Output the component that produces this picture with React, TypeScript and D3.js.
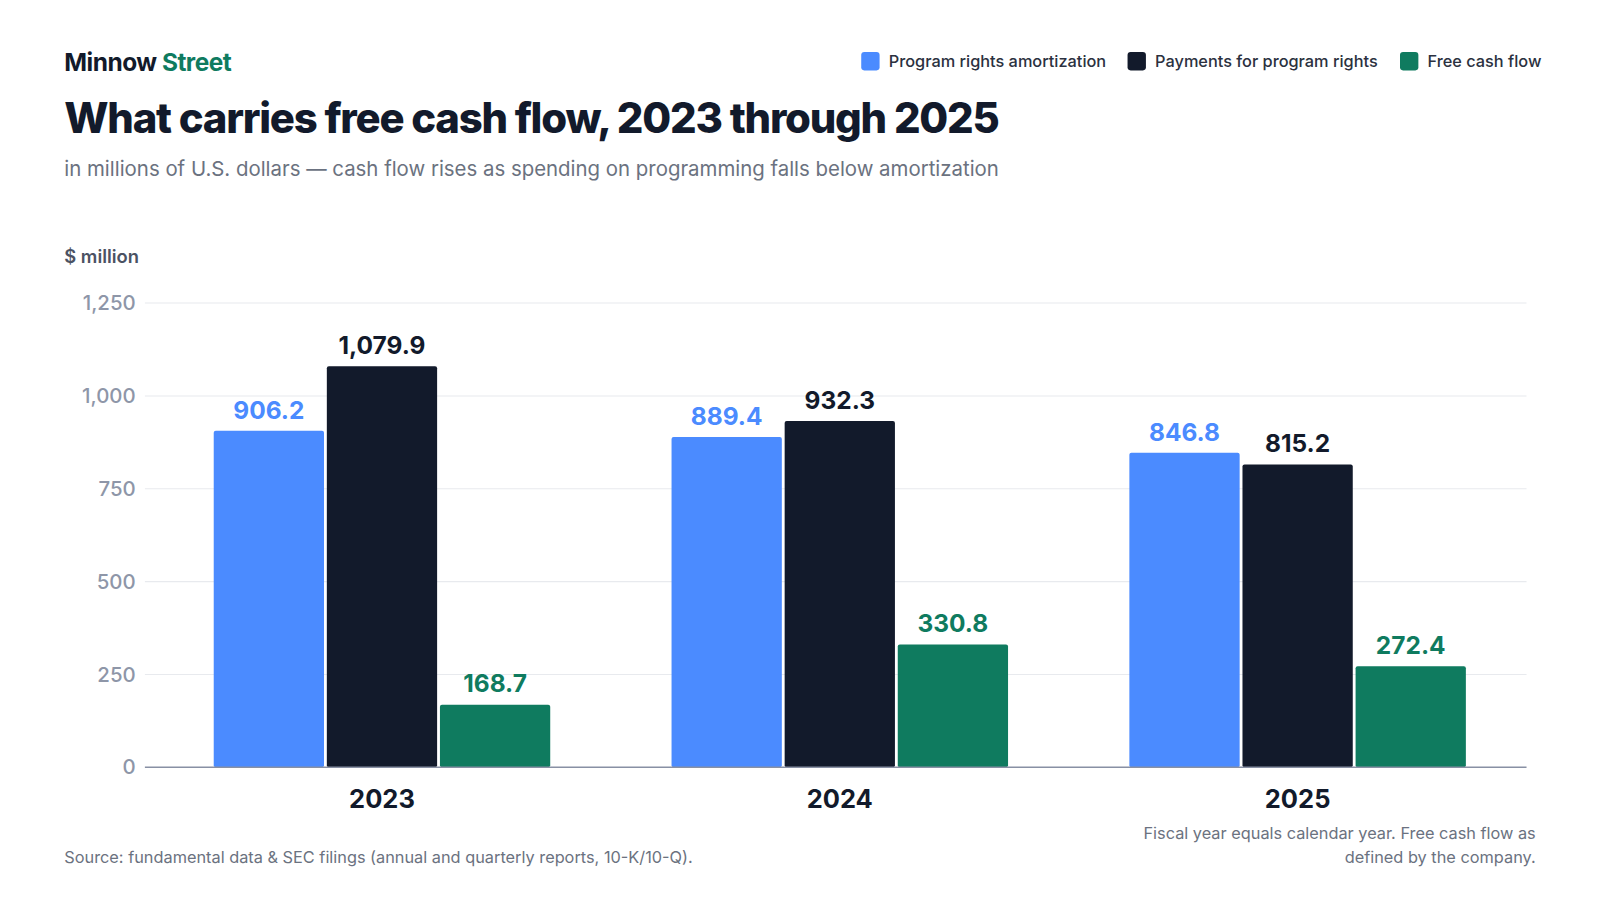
import React from 'react';
import * as d3 from 'd3';

const years = ['2023', '2024', '2025'];
const seriesNames = ['Program rights amortization', 'Payments for program rights', 'Free cash flow'];
const seriesColors = ['#4b8bff', '#121a2b', '#0f7b5f'];
const amortization = [906.2, 889.4, 846.8];
const payments = [1079.9, 932.3, 815.2];
const freeCashFlow = [168.7, 330.8, 272.4];
const yTicks = [0, 250, 500, 750, 1000, 1250];

const App: React.FC = () => {
  const width = 1600;
  const height = 900;
  const font = 'Inter, "Noto Sans", sans-serif';
  const values = [amortization, payments, freeCashFlow];

  const x = d3.scaleBand<string>().domain(years).range([150, 1496]).paddingInner(0.265).paddingOuter(0.1325);
  const xs = d3.scaleBand<string>().domain(seriesNames).range([0, x.bandwidth()]).paddingInner(0.025);
  const y = d3.scaleLinear().domain([0, 1250]).range([752, 297]);
  const fmt = d3.format(',.1f');

  const legendX = [844, 1105, 1372];

  return (
    <svg width={width} height={height} viewBox="0 0 1568 882" style={{ position: 'absolute', left: 0, top: 0, background: '#fff' }} fontFamily={font}>
      <text x={63} y={70} fontSize={24} fontWeight={700} fill="#121a2b" letterSpacing={-0.5}>
        Minnow <tspan fill="#0f7b5f">Street</tspan>
      </text>
      <text x={63} y={130} fontSize={41} fontWeight={800} fill="#121a2b" letterSpacing={-1.2}>
        What carries free cash flow, 2023 through 2025
      </text>
      <text x={63} y={172} fontSize={20} fill="#6b7280">
        in millions of U.S. dollars — cash flow rises as spending on programming falls below amortization
      </text>

      {seriesNames.map((s, i) => (
        <g key={s} transform={`translate(${legendX[i]},51)`}>
          <rect width={18} height={18} rx={3} fill={seriesColors[i]} />
          <text x={27} y={15} fontSize={16} fontWeight={500} fill="#2b3140">{s}</text>
        </g>
      ))}

      <text x={63} y={258} fontSize={18} fontWeight={600} fill="#4b5263">$ million</text>

      {yTicks.map((t) => (
        <g key={t}>
          {t > 0 && <line x1={142} x2={1496} y1={y(t)} y2={y(t)} stroke="#e8eaee" />}
          <text x={133} y={y(t) + 7} textAnchor="end" fontSize={20} fontWeight={500} fill="#8e96a8">{d3.format(',')(t)}</text>
        </g>
      ))}

      {years.map((yr, gi) => (
        <g key={yr} transform={`translate(${x(yr)},0)`}>
          {seriesNames.map((s, si) => {
            const v = values[si][gi];
            const bx = xs(s)!;
            return (
              <g key={s}>
                <rect x={bx} y={y(v)} width={xs.bandwidth()} height={752 - y(v)} rx={2} fill={seriesColors[si]} />
                <text x={bx + xs.bandwidth() / 2} y={y(v) - 12} textAnchor="middle" fontSize={24} fontWeight={700} fill={seriesColors[si]}>
                  {fmt(v)}
                </text>
              </g>
            );
          })}
          <text x={x.bandwidth() / 2} y={792} textAnchor="middle" fontSize={25} fontWeight={700} fill="#121a2b">{yr}</text>
        </g>
      ))}

      <line x1={142} x2={1496} y1={752} y2={752} stroke="#8890a4" strokeWidth={1.5} />

      <text x={63} y={846} fontSize={16} fill="#6b7280">
        Source: fundamental data &amp; SEC filings (annual and quarterly reports, 10-K/10-Q).
      </text>
      <text x={1505} y={822} textAnchor="end" fontSize={16} fill="#6b7280">Fiscal year equals calendar year. Free cash flow as</text>
      <text x={1505} y={846} textAnchor="end" fontSize={16} fill="#6b7280">defined by the company.</text>
    </svg>
  );
};

export default App;
